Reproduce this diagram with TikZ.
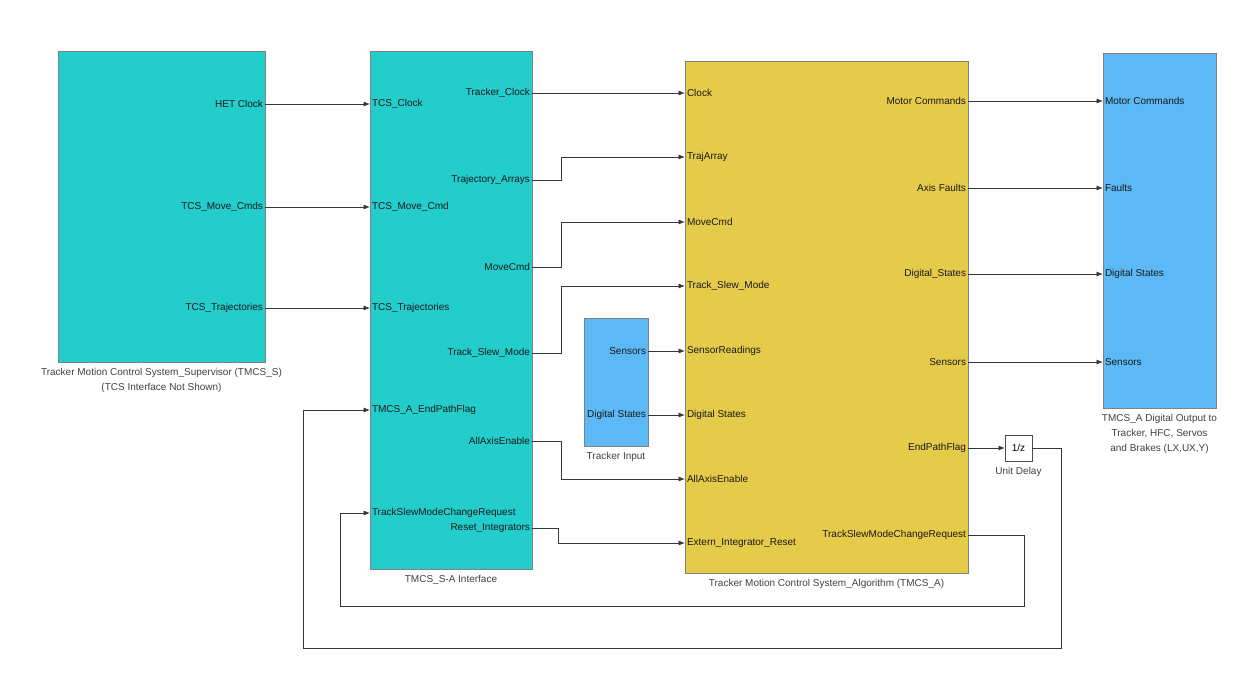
\documentclass[tikz,border=0pt]{standalone}
\usepackage{fontspec}
\setmainfont{Liberation Sans}
\usetikzlibrary{positioning,arrows.meta}
\definecolor{tcscyan}{RGB}{34,205,204}
\definecolor{algyellow}{RGB}{230,203,74}
\definecolor{ioblue}{RGB}{92,185,245}
\definecolor{wire}{RGB}{55,55,55}

\begin{document}
\begin{tikzpicture}[x=1pt,y=-1pt,font=\fontsize{10}{12}\selectfont]
		\tikzset{block/.style = {draw=black!50,anchor=north west,inner sep=0pt,outer sep=0pt}}
		\tikzset{outport/.style = {anchor=east,inner xsep=2pt,inner ysep=0pt,outer sep=0pt,text=black!90}}
		\tikzset{inport/.style = {anchor=west,inner xsep=2pt,inner ysep=0pt,outer sep=0pt,text=black!90}}
		\tikzset{caption/.style = {below=3pt,align=center,text=black!75,font=\fontsize{10}{15}\selectfont}}
		\tikzset{func/.style = {->,> = {Latex[length=6.5pt,width=5pt]},draw=wire,line width=0.7pt}}

		\useasboundingbox (0,0) rectangle (1253,679);

		% blocks
		\node[block,fill=tcscyan,minimum width=207pt,minimum height=311pt] (sup) at (58,51){};
		\node[block,fill=tcscyan,minimum width=162pt,minimum height=518pt] (ifc) at (370,51){};
		\node[block,fill=algyellow,minimum width=283pt,minimum height=512pt] (alg) at (685,61){};
		\node[block,fill=ioblue,minimum width=64pt,minimum height=128pt] (tin) at (584,318){};
		\node[block,fill=ioblue,minimum width=113pt,minimum height=355pt] (dout) at (1103,53){};
		\node[block,draw=black!70,fill=white,minimum width=27pt,minimum height=26pt] (ud) at (1005,435){1/z};

		% captions
		\node[caption] at (sup.south) {Tracker Motion Control System\_Supervisor (TMCS\_S)\\(TCS Interface Not Shown)};
		\node[caption] at (ifc.south) {TMCS\_S-A Interface};
		\node[caption] at (alg.south) {Tracker Motion Control System\_Algorithm (TMCS\_A)};
		\node[caption] at (tin.south) {Tracker Input};
		\node[caption] at (dout.south) {TMCS\_A Digital Output to\\Tracker, HFC, Servos\\and Brakes (LX,UX,Y)};
		\node[caption] at (ud.south) {Unit Delay};

		% ports supervisor
		\node[outport] (hetclk) at (265,104){HET Clock};
		\node[outport] (movecmds) at (265,207){TCS\_Move\_Cmds};
		\node[outport] (trajs) at (265,308){TCS\_Trajectories};

		% ports interface
		\node[inport] (tcsclk) at (370,104){TCS\_Clock};
		\node[inport] (tcsmove) at (370,207){TCS\_Move\_Cmd};
		\node[inport] (tcstraj) at (370,308){TCS\_Trajectories};
		\node[inport] (endflagin) at (370,410){TMCS\_A\_EndPathFlag};
		\node[inport] (tsmreqin) at (370,513){TrackSlewModeChangeRequest};
		\node[outport] (trkclk) at (532,93){Tracker\_Clock};
		\node[outport] (trajarr) at (532,180){Trajectory\_Arrays};
		\node[outport] (movecmd) at (532,267){MoveCmd};
		\node[outport] (tsm) at (532,353){Track\_Slew\_Mode};
		\node[outport] (axen) at (532,441){AllAxisEnable};
		\node[outport] (rstint) at (532,528){Reset\_Integrators};

		% ports tracker input
		\node[outport] (tinsens) at (648,351){Sensors};
		\node[outport] (tindig) at (648,415){Digital States};

		% ports algorithm
		\node[inport] (aclk) at (685,93){Clock};
		\node[inport] (atraj) at (685,157){TrajArray};
		\node[inport] (amove) at (685,222){MoveCmd};
		\node[inport] (atsm) at (685,286){Track\_Slew\_Mode};
		\node[inport] (asens) at (685,351){SensorReadings};
		\node[inport] (adig) at (685,415){Digital States};
		\node[inport] (aaxen) at (685,479){AllAxisEnable};
		\node[inport] (arst) at (685,543){Extern\_Integrator\_Reset};
		\node[outport] (amotor) at (968,101){Motor Commands};
		\node[outport] (afault) at (968,188){Axis Faults};
		\node[outport] (adigout) at (968,274){Digital\_States};
		\node[outport] (asensout) at (968,362){Sensors};
		\node[outport] (aendflag) at (968,448){EndPathFlag};
		\node[outport] (atsmreq) at (968,535){TrackSlewModeChangeRequest};

		% ports digital output
		\node[inport] (dmotor) at (1103,101){Motor Commands};
		\node[inport] (dfault) at (1103,188){Faults};
		\node[inport] (ddig) at (1103,274){Digital States};
		\node[inport] (dsens) at (1103,362){Sensors};

		% edges supervisor -> interface
		\draw[func] (hetclk) to (tcsclk);
		\draw[func] (movecmds) to (tcsmove);
		\draw[func] (trajs) to (tcstraj);
		% edges interface -> algorithm
		\draw[func] (trkclk) to (aclk);
		\draw[func] (trajarr.east) -- ++(29,0) |- (atraj.west);
		\draw[func] (movecmd.east) -- ++(29,0) |- (amove.west);
		\draw[func] (tsm.east) -- ++(29,0) |- (atsm.west);
		\draw[func] (axen.east) -- ++(29,0) |- (aaxen.west);
		\draw[func] (rstint.east) -- ++(26,0) |- (arst.west);
		% edges tracker input -> algorithm
		\draw[func] (tinsens) to (asens);
		\draw[func] (tindig) to (adig);
		% edges algorithm -> digital output
		\draw[func] (amotor) to (dmotor);
		\draw[func] (afault) to (dfault);
		\draw[func] (adigout) to (ddig);
		\draw[func] (asensout) to (dsens);
		% feedback
		\draw[func] (aendflag.east) -- (ud.west);
		\draw[func] (ud.east) -| (1061,648) -| (303,410) -- (endflagin.west);
		\draw[func] (atsmreq.east) -| (1024,606) -| (340,513) -- (tsmreqin.west);
	\end{tikzpicture}
\end{document}
